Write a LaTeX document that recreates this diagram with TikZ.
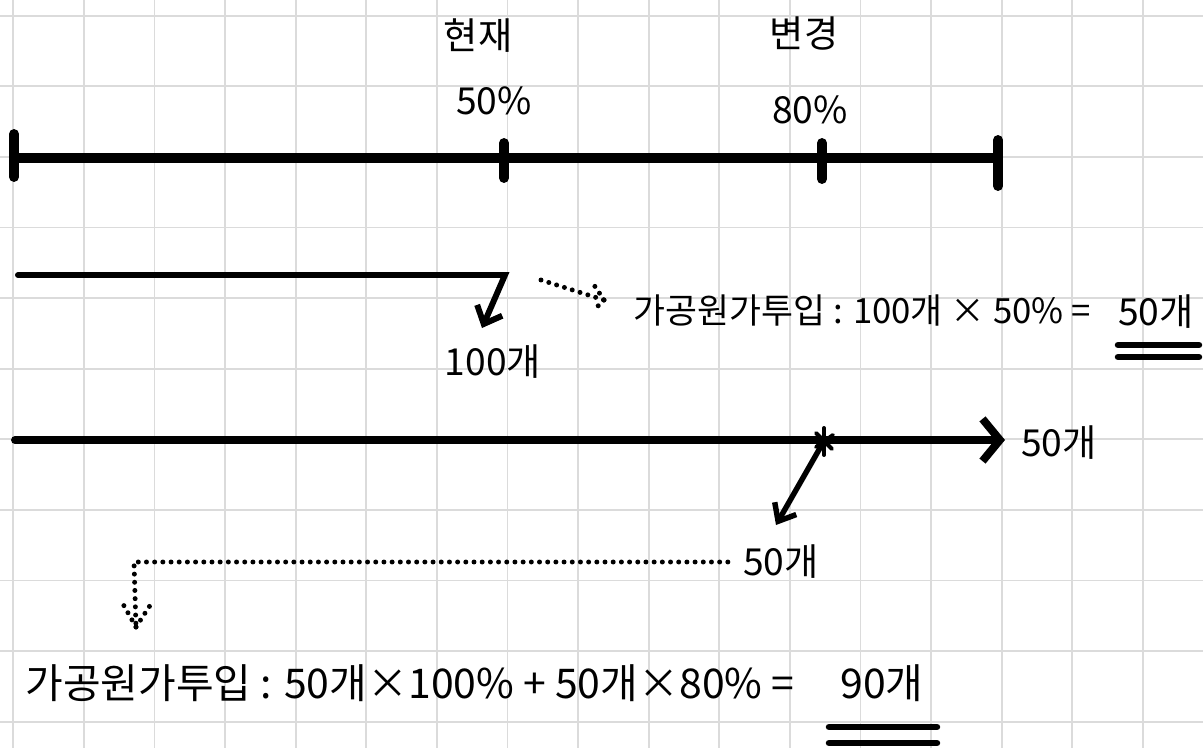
\documentclass[tikz,border=0pt]{standalone}
\usepackage{fontspec}
\setmainfont{Noto Sans CJK KR}
\usetikzlibrary{arrows.meta}

\begin{document}
\begin{tikzpicture}[x=0.14164mm,y=-0.14164mm]
\tikzstyle{gridline}=[draw=black!14,line width=0.8pt]
\tikzstyle{bar}=[draw,line width=4pt,line cap=round]
\tikzstyle{flow}=[draw,line width=2.4pt,line cap=round,-{Straight Barb[length=6pt,width=11pt]}]
\tikzstyle{mainarrow}=[draw,line width=3.2pt,line cap=round,-{Straight Barb[length=7pt,width=17pt]}]
\tikzstyle{pointer}=[draw,line width=2.2pt,line cap=round,-{Straight Barb[length=6pt,width=10pt]}]
\tikzstyle{dots}=[draw,line width=2pt,line cap=round,dash pattern=on 0pt off 3.3pt]
\tikzstyle{starmark}=[draw,line width=1.6pt,line cap=round]
\tikzstyle{under}=[draw,line width=2.6pt,line cap=round]
\tikzstyle{lbl}=[inner sep=0pt,font=\fontsize{15}{18}\selectfont]

\useasboundingbox (0,0) rectangle (1203,748);
\fill[white] (0,0) rectangle (1203,748);
\foreach \i in {0,...,16} \path[gridline] ({13.3+70.6*\i},0) -- ({13.3+70.6*\i},748);
\foreach \j in {0,...,10} \path[gridline] (0,{15.7+70.6*\j}) -- (1203,{15.7+70.6*\j});

% scale line
\coordinate (a0) at (14,158);
\coordinate (a1) at (504,158);
\coordinate (a2) at (822,158);
\coordinate (a3) at (998,158);
\path[bar] (a0) -- (a3);
\foreach \p/\u/\d in {a0/24/19,a1/15/20,a2/15/21,a3/18/28}
  \path[bar] (\p) +(0,-\u) -- +(0,\d);

\node[lbl] (now) at (478,36) {현재};
\node[lbl] (nowp) at (494,101) {50\%};
\node[lbl] (chg) at (804,34) {변경};
\node[lbl] (chgp) at (810,110) {80\%};

% first unit
\coordinate (b0) at (18,275);
\coordinate (b1) at (505,275);
\coordinate (b2) at (482,328);
\path[flow] (b0) -- (b1) -- (b2);
\node[lbl] (n100) at (493,362) {100개};

\coordinate (d0) at (541,280);
\coordinate (d1) at (604,300);
\path[dots] (d0) -- (d1);
\path[dots] (d1) -- +(-12,-18);
\path[dots] (d1) -- +(-10,10);

\node[lbl,anchor=west,font=\fontsize{14}{17}\selectfont] (f1) at (633,310) {가공원가투입 : 100개 × 50\% =};
\node[lbl] (r1) at (1156,312) {50개};
\path[under] (1118,345) -- (1199,345);
\path[under] (1118,357) -- (1199,357);

% second unit
\coordinate (c0) at (15,440);
\coordinate (c1) at (1005,440);
\path[mainarrow] (c0) -- (c1);
\node[lbl] (q50) at (1059,443) {50개};

\coordinate (s) at (824,441);
\path[starmark] (s) +(0,-13) -- +(0,14);
\path[starmark] (s) +(-8,-8) -- +(8,8);
\path[starmark] (s) +(-8,6) -- +(9,-6);
\coordinate (c2) at (776,525);
\path[pointer] (s) -- (c2);
\node[lbl] (n50) at (781,562) {50개};

\coordinate (e0) at (134,562);
\coordinate (e1) at (136,627);
\path[dots,shorten <=6pt] (n50.west) -- (e0) -- (e1);
\path[dots] (e1) -- +(-13,-23);
\path[dots] (e1) -- +(15,-23);

\node[lbl,anchor=west,font=\fontsize{16.5}{20}\selectfont] (f2) at (25,683) {가공원가투입 : 50개×100\% + 50개×80\% =};
\node[lbl,font=\fontsize{16.5}{20}\selectfont] (r2) at (882,683) {90개};
\path[under] (829,727) -- (937,727);
\path[under] (829,743) -- (937,743);
\end{tikzpicture}
\end{document}
